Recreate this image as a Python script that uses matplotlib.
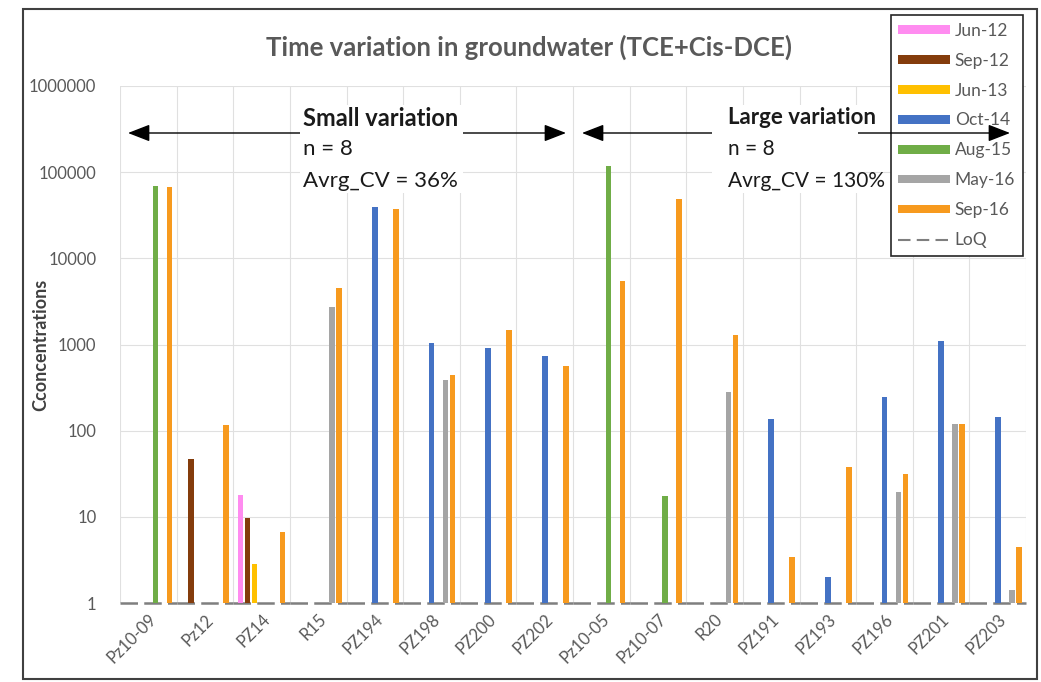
import numpy as np
import matplotlib.pyplot as plt
from matplotlib.patches import Rectangle, FancyArrowPatch, Patch
from matplotlib.lines import Line2D

plt.rcParams['font.family'] = ['Lato', 'DejaVu Sans']

# wells (x axis) and sampling campaigns (bar series)
wells = ['Pz10-09', 'Pz12', 'PZ14', 'R15', 'PZ194', 'PZ198', 'PZ200', 'PZ202',
         'Pz10-05', 'Pz10-07', 'R20', 'PZ191', 'PZ193', 'PZ196', 'PZ201', 'PZ203']
campaigns = ['Jun-12', 'Sep-12', 'Jun-13', 'Oct-14', 'Aug-15', 'May-16', 'Sep-16']

# TCE + cis-DCE concentrations, 0 = not sampled
jun12 = [0, 0, 18, 0, 0, 0, 0, 0, 0, 0, 0, 0, 0, 0, 0, 0]
sep12 = [0, 47, 9.7, 0, 0, 0, 0, 0, 0, 0, 0, 0, 0, 0, 0, 0]
jun13 = [0, 0, 2.8, 0, 0, 0, 0, 0, 0, 0, 0, 0, 0, 0, 0, 0]
oct14 = [0, 0, 0, 0, 39000, 1040, 910, 740, 0, 0, 0, 136, 2.0, 245, 1090, 144]
aug15 = [70000, 0, 0, 0, 0, 0, 0, 0, 118000, 17.5, 0, 0, 0, 0, 0, 0]
may16 = [0, 0, 0, 2700, 0, 385, 0, 0, 0, 0, 280, 0, 0, 19.5, 120, 1.4]
sep16 = [67000, 115, 6.6, 4500, 37000, 440, 1480, 570,
         5400, 49000, 1290, 3.4, 38, 31, 120, 4.5]
loq = [1] * len(wells)

series = [jun12, sep12, jun13, oct14, aug15, may16, sep16]
colors = ['#FF8CF0', '#843C0C', '#FFC000', '#4472C4', '#70AD47', '#A5A5A5', '#F79A1E']

W, H = 1041, 682
fig = plt.figure(figsize=(W / 100, H / 100), dpi=100)
ax = fig.add_axes([120 / W, 1 - 603 / H, 906 / W, (603 - 86) / H])

x = np.arange(len(wells))
step = 0.124
for j, (vals, c) in enumerate(zip(series, colors)):
    v = np.array(vals, dtype=float)
    mask = v > 0
    ax.bar(x[mask] + (j - 3) * step, v[mask] - 1, bottom=1, width=0.1,
           color=c, zorder=3, label=campaigns[j])

# limit of quantification, one segment per well
ax.hlines(loq, x - 0.5, x + 0.5, colors='#7F7F7F', linewidth=1.8,
          linestyles=(0, (7, 2.5)), zorder=2, clip_on=False)

ax.set_yscale('log')
ax.set_ylim(1, 1e6)
ax.set_xlim(-0.5, len(wells) - 0.5)
yt = [1, 10, 100, 1000, 10000, 100000, 1000000]
ax.set_yticks(yt)
ax.set_yticklabels([str(t) for t in yt], color='#595959', fontsize=12)
ax.yaxis.set_minor_locator(plt.NullLocator())
ax.set_xticks(x)
ax.set_xticklabels(wells, rotation=45, ha='right', rotation_mode='anchor',
                   color='#595959', fontsize=12)
ax.set_xticks(np.arange(len(wells) + 1) - 0.5, minor=True)
ax.tick_params(which='both', length=0)
ax.tick_params(axis='y', pad=17)
ax.tick_params(axis='x', pad=6)
ax.grid(axis='y', which='major', color='#E0E0E0', linewidth=0.8, zorder=0)
ax.grid(axis='x', which='minor', color='#E0E0E0', linewidth=0.8, zorder=0)
for s in ax.spines.values():
    s.set_visible(False)
ax.set_ylabel('Cconcentrations', fontsize=13, fontweight='bold', color='#404040')
ax.yaxis.set_label_coords(-0.078, 0.5)

fig.text(529 / W, 1 - 47 / H, 'Time variation in groundwater (TCE+Cis-DCE)',
         ha='center', va='center', fontsize=18.5, fontweight='bold', color='#595959')

# legend
handles = [Patch(facecolor=c, edgecolor='none') for c in colors]
handles.append(Line2D([], [], color='#7F7F7F', linewidth=1.5, dashes=(6, 3)))
leg = fig.legend(handles, campaigns + ['LoQ'], loc='upper right',
                 bbox_to_anchor=(1023 / W, 1 - 15 / H), fontsize=12.5,
                 handlelength=3.0, handleheight=0.4, labelspacing=0.8,
                 handletextpad=0.25, borderpad=0.45, borderaxespad=0,
                 fancybox=False, framealpha=1, edgecolor='#262626')
leg.get_frame().set_linewidth(1.2)
for t in leg.get_texts():
    t.set_color('#595959')
leg.set_zorder(5)


def px(xp, yp):
    return (xp / W, 1 - yp / H)


# range arrows with their text boxes on top
for x0, x1 in [(128, 566), (582, 1010)]:
    arr = FancyArrowPatch(px(x0, 133), px(x1, 133), transform=fig.transFigure,
                          arrowstyle='<|-|>,head_length=0.9,head_width=0.35',
                          mutation_scale=15, color='black', linewidth=1,
                          shrinkA=0, shrinkB=0, zorder=6)
    fig.add_artist(arr)

boxes = [(300, 463, 'Small variation', 'n = 8', 'Avrg_CV = 36%', 303, 17),
         (712, 858, 'Large variation', 'n = 8', 'Avrg_CV = 130%', 728, 16)]
for bx0, bx1, head, n_txt, cv_txt, tx, fs in boxes:
    fig.add_artist(Rectangle(px(bx0, 193), (bx1 - bx0) / W, 88 / H,
                             transform=fig.transFigure, facecolor='white',
                             edgecolor='none', zorder=7))
    fig.text(*px(tx, 118), head, fontsize=fs, fontweight='bold', color='#1A1A1A',
             va='center', ha='left', zorder=8)
    fig.text(*px(tx, 149), n_txt, fontsize=fs - 1, color='#1A1A1A',
             va='center', ha='left', zorder=8)
    fig.text(*px(tx, 181), cv_txt, fontsize=fs - 1, color='#1A1A1A',
             va='center', ha='left', zorder=8)

# outer chart frame
fig.add_artist(Rectangle(px(23, 679), 1014 / W, 670 / H, transform=fig.transFigure,
                         fill=False, edgecolor='#404040', linewidth=1.5, zorder=9))

fig.savefig('out.png', dpi=100)
